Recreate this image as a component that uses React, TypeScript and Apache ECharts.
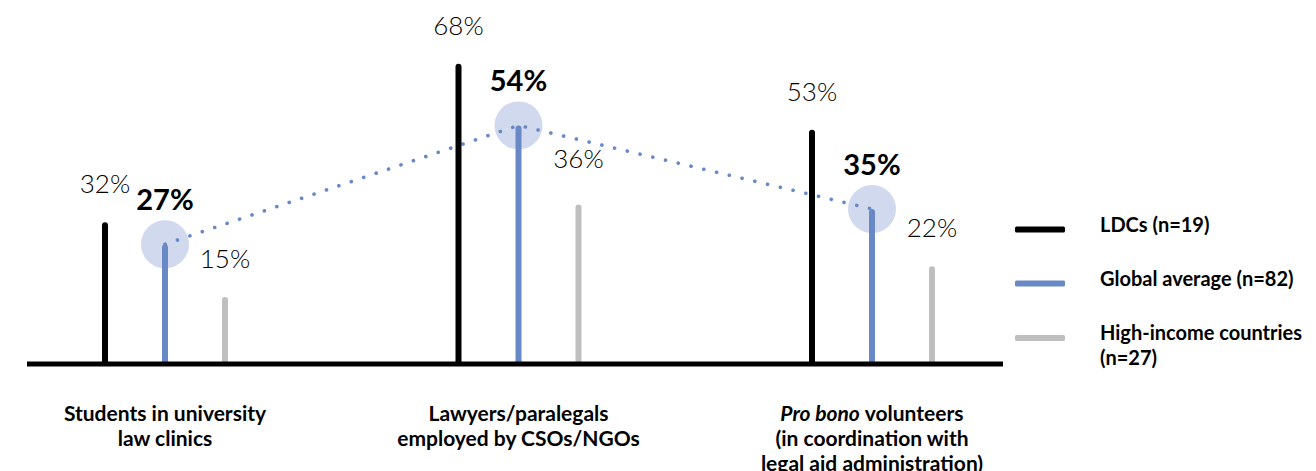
import React, { useEffect, useRef } from "react";
import * as echarts from "echarts";

const categories = [
  "Students in university\nlaw clinics",
  "Lawyers/paralegals\nemployed by CSOs/NGOs",
  "Pro bono volunteers\n(in coordination with\nlegal aid administration)",
];
const seriesNames = ["LDCs (n=19)", "Global average (n=82)", "High-income countries (n=27)"];
const ldcValues = [32, 68, 53];
const globalValues = [27, 54, 35];
const highIncomeValues = [15, 36, 22];

const FONT = "Lato, 'Open Sans', sans-serif";
const BLACK = "#000000";
const BLUE = "#6889c6";
const GRAY = "#bfbfbf";
const HALO = "#c5cfea";

export default function App() {
  const ref = useRef<HTMLDivElement>(null);
  useEffect(() => {
    if (!ref.current) return;
    const chart = echarts.init(ref.current, null, { renderer: "svg" });
    const lightLabel = (distance: number) => ({
      show: true,
      position: "top",
      distance,
      formatter: "{c}%",
      fontFamily: FONT,
      fontWeight: 300,
      fontSize: 26,
      color: "#000000",
    });
    const legendFont = { fontFamily: FONT, fontWeight: "bold", fontSize: 20, color: BLACK };
    const legendBase = {
      orient: "vertical",
      left: 1015,
      padding: 0,
      itemWidth: 50,
      itemHeight: 6,
      icon: "roundRect",
      selectedMode: false,
      textStyle: {
        padding: [0, 0, 0, 30],
        rich: {
          a: { ...legendFont, lineHeight: 25 },
          s: { fontSize: 4, lineHeight: 12 },
        },
      },
    };
    const option: any = {
      animation: false,
      grid: {
        left: -11.75,
        right: 267.25,
        top: 11,
        bottom: 108,
        outerBoundsMode: "none",
        containLabel: false,
      },
      legend: [
        {
          ...legendBase,
          top: 213.5,
          formatter: (name: string) => "{a|" + name + "}\n{s| }",
          data: [seriesNames[0]],
        },
        {
          ...legendBase,
          top: 267.5,
          formatter: (name: string) => "{a|" + name + "}\n{s| }",
          data: [seriesNames[1]],
        },
        {
          ...legendBase,
          top: 335,
          formatter: () => "",
          data: [seriesNames[2]],
        },
        {
          ...legendBase,
          top: 321.5,
          formatter: (name: string) =>
            name
              .replace("countries (n=27)", "countries\n(n=27)")
              .split("\n")
              .map((l) => "{a|" + l + "}")
              .join("\n"),
          data: [{ name: seriesNames[2], itemStyle: { opacity: 0 } }],
        },
      ],
      xAxis: {
        type: "category",
        data: categories,
        boundaryGap: true,
        axisLine: { show: false },
        axisTick: { show: false },
        splitLine: { show: false },
        axisLabel: {
          interval: 0,
          margin: 36.5,
          formatter: (v: string) =>
            v
              .split("\n")
              .map((line) => {
                if (line.startsWith("Pro bono")) {
                  return "{i|Pro bono}{b|" + line.slice(8) + "}";
                }
                return "{b|" + line + "}";
              })
              .join("\n"),
          rich: {
            b: { fontFamily: FONT, fontWeight: "bold", fontSize: 21, lineHeight: 25, color: BLACK },
            i: {
              fontFamily: FONT,
              fontWeight: "bold",
              fontStyle: "italic",
              fontSize: 21,
              lineHeight: 25,
              color: BLACK,
            },
          },
        },
      },
      yAxis: {
        type: "value",
        min: 0,
        max: 80,
        show: false,
      },
      series: [
        {
          type: "scatter",
          name: "halo",
          data: globalValues,
          symbolSize: 48,
          itemStyle: { color: HALO },
          z: 1,
          silent: true,
        },
        {
          type: "line",
          name: "trend",
          data: globalValues,
          showSymbol: false,
          symbol: "none",
          lineStyle: { color: BLUE, width: 3.6, type: [0.1, 13], cap: "round" },
          z: 2,
          silent: true,
        },
        {
          type: "bar",
          name: seriesNames[0],
          data: ldcValues,
          barWidth: 6,
          itemStyle: { color: BLACK, borderRadius: [3, 3, 0, 0] },
          label: lightLabel(26),
          z: 3,
        },
        {
          type: "bar",
          name: seriesNames[1],
          data: globalValues,
          barWidth: 6,
          itemStyle: { color: BLUE, borderRadius: [3, 3, 0, 0] },
          label: {
            show: true,
            position: "top",
            distance: 31,
            formatter: "{c}%",
            fontFamily: FONT,
            fontWeight: "bold",
            fontSize: 29,
            color: BLACK,
          },
          z: 3,
        },
        {
          type: "bar",
          name: seriesNames[2],
          data: highIncomeValues.map((v, i) => (i === 1 ? { value: v, label: { distance: 34 } } : v)),
          barWidth: 6,
          barGap: "900%",
          itemStyle: { color: GRAY, borderRadius: [3, 3, 0, 0] },
          label: lightLabel(26),
          z: 3,
        },
      ],
      graphic: [
        {
          type: "line",
          shape: { x1: 27, y1: 364, x2: 1003, y2: 364 },
          style: { stroke: BLACK, lineWidth: 5 },
          z: 100,
          silent: true,
        },
      ],
    };
    chart.setOption(option);
    return () => chart.dispose();
  }, []);
  return (
    <div
      ref={ref}
      style={{ position: "fixed", left: 0, top: 0, width: 1316, height: 471, background: "#ffffff" }}
    />
  );
}
